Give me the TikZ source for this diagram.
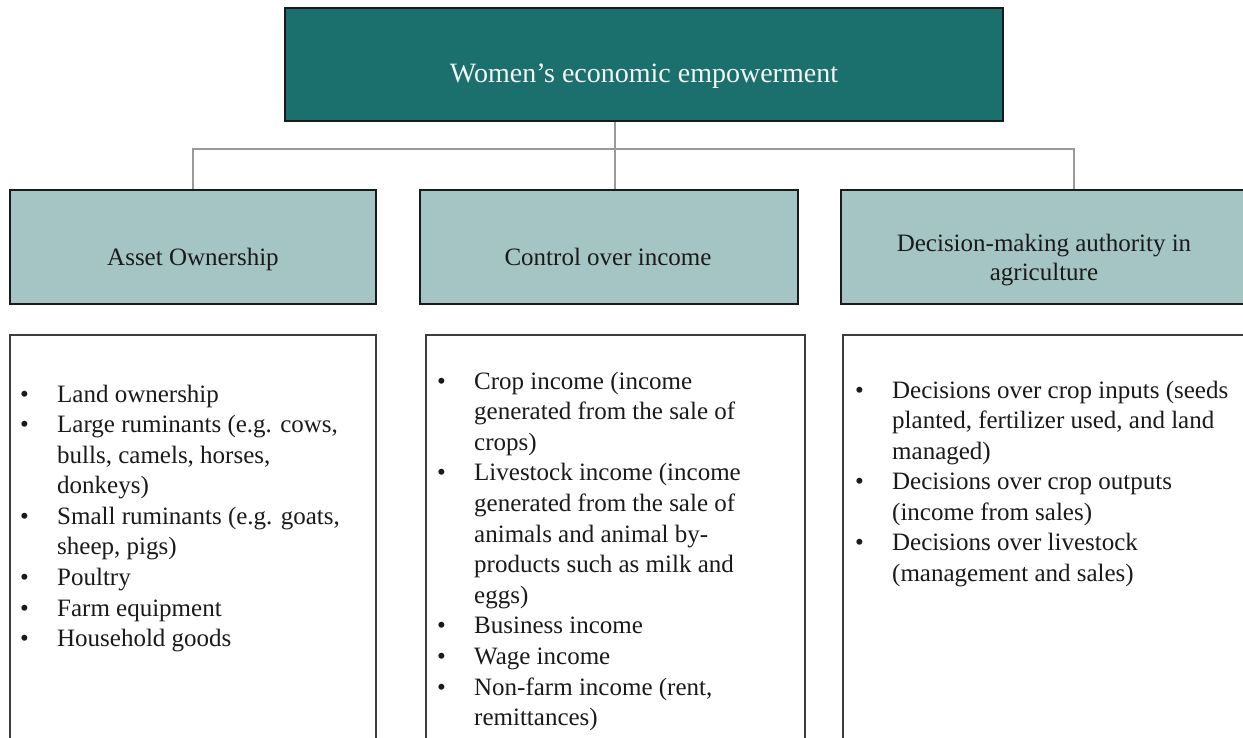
\documentclass[tikz,border=0pt]{standalone}
\usepackage{fontspec}
\setmainfont{Liberation Serif}
\usetikzlibrary{arrows.meta,calc,positioning}
\definecolor{tealtop}{HTML}{1B6F6C}
\definecolor{tealpale}{HTML}{A5C5C4}
\definecolor{inkdark}{HTML}{1A1A1A}
\newcommand{\bodyfont}{\fontsize{25}{30.6}\selectfont}
\newcommand{\headfont}{\fontsize{25}{28.5}\selectfont}
\newcommand{\bul}{\textbullet}

\begin{document}
\begin{tikzpicture}[x=1pt,y=-1pt,
  topbox/.style={draw=inkdark,line width=1.8pt,fill=tealtop,inner sep=0pt},
  dimbox/.style={draw=inkdark,line width=1.6pt,fill=tealpale,inner sep=0pt},
  listbox/.style={draw=inkdark!85,line width=1.6pt,fill=white,inner sep=0pt},
  link/.style={draw=gray!80,line width=1.1pt},
  lbl/.style={font=\headfont,text=inkdark,align=center,inner sep=0pt},
  items/.style={font=\bodyfont,text=inkdark,anchor=base west,inner sep=0pt}]
\useasboundingbox (0,0) rectangle (1243,738);
\clip (0,0) rectangle (1243,738);
% top box
\node[topbox,minimum width=718pt,minimum height=113pt] (wee) at (644,64.5) {};
\node[anchor=base,inner sep=0pt,font=\fontsize{28}{32}\selectfont,text=white!94!tealtop] (weeT) at (644,83) {Women’s economic empowerment};
% three dimensions
\node[dimbox,minimum width=366pt,minimum height=114pt] (ao) at (193,247) {};
\node[dimbox,minimum width=378pt,minimum height=114pt] (ci) at (609,247) {};
\node[dimbox,minimum width=466pt,minimum height=114pt] (dm) at (1074,247) {};
\node[lbl,anchor=base] (aoT) at (193,266) {Asset Ownership};
\node[lbl,anchor=base] (ciT) at (608,266) {Control over income};
\node[lbl] (dmT) at (1044,260) {Decision-making authority in\\agriculture};
% connectors
\coordinate (hub) at (615,149);
\draw[link] (wee.south -| hub) -- (ci.north -| hub);
\draw[link] (ao.north) |- (hub) -| (dm.north);
% indicator boxes
\node[listbox,minimum width=366pt,minimum height=430pt] (aoB) at (193,550) {};
\node[listbox,minimum width=379pt,minimum height=430pt] (ciB) at (615.5,550) {};
\node[listbox,minimum width=464pt,minimum height=430pt] (dmB) at (1075,550) {};
\node[items] (aoL) at (20,402) {\begin{tabular}[t]{@{}p{37pt}@{}l@{}}
\bul & Land ownership\\
\bul & Large ruminants (e.g. cows,\\
 & bulls, camels, horses,\\
 & donkeys)\\
\bul & Small ruminants (e.g. goats,\\
 & sheep, pigs)\\
\bul & Poultry\\
\bul & Farm equipment\\
\bul & Household goods
\end{tabular}};
\node[items] (ciL) at (437,389) {\begin{tabular}[t]{@{}p{37pt}@{}l@{}}
\bul & Crop income (income\\
 & generated from the sale of\\
 & crops)\\
\bul & Livestock income (income\\
 & generated from the sale of\\
 & animals and animal by-\\
 & products such as milk and\\
 & eggs)\\
\bul & Business income\\
\bul & Wage income\\
\bul & Non-farm income (rent,\\
 & remittances)
\end{tabular}};
\node[items] (dmL) at (855,398) {\begin{tabular}[t]{@{}p{37pt}@{}l@{}}
\bul & Decisions over crop inputs (seeds\\
 & planted, fertilizer used, and land\\
 & managed)\\
\bul & Decisions over crop outputs\\
 & (income from sales)\\
\bul & Decisions over livestock\\
 & (management and sales)
\end{tabular}};
\end{tikzpicture}
\end{document}
